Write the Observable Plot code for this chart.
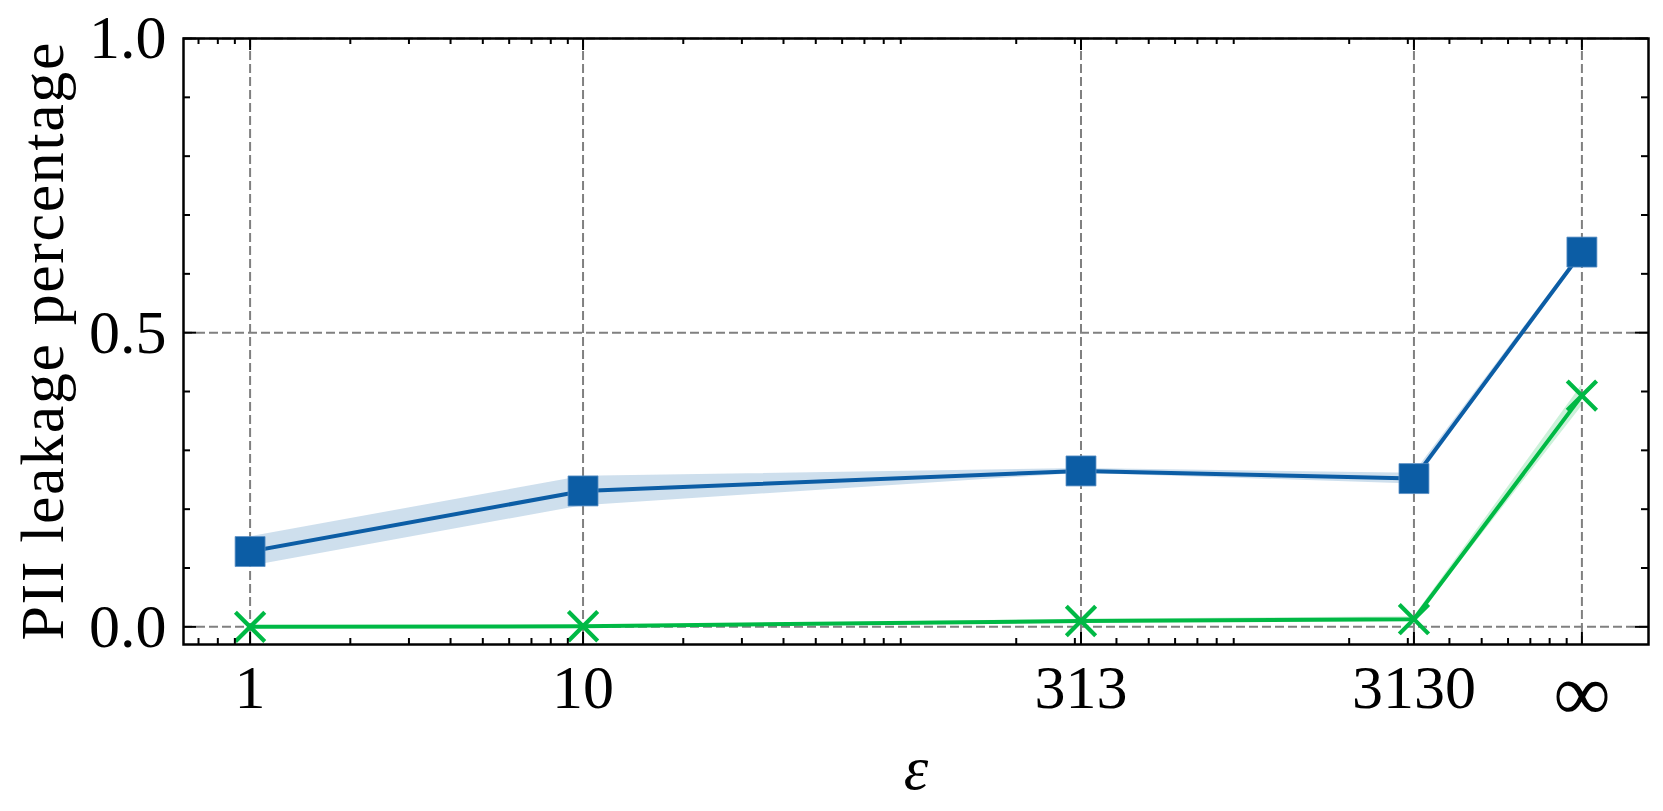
<!DOCTYPE html>
<html><head><meta charset="utf-8">
<script src="https://cdn.jsdelivr.net/npm/d3@7"></script>
<script src="https://cdn.jsdelivr.net/npm/@observablehq/plot@0.6"></script>
<style>html,body{margin:0;padding:0;background:#fff;} svg{display:block}</style>
</head><body><div id="chart"></div>
<script>
// ---- data ----
const epsLabels = ["1", "10", "313", "3130", "\u221E"];
const epsPos = [1, 10, 313, 3130, 10000];          // ∞ drawn at 10^4
const squareMean = [0.128, 0.231, 0.265, 0.252, 0.637];
const squareErr  = [0.025, 0.025, 0.004, 0.009, 0.003];
const crossMean  = [0.000, 0.001, 0.010, 0.013, 0.393];
const crossErr   = [0.000, 0.000, 0.003, 0.004, 0.018];
const yMajor = [0, 0.5, 1.0];
const yMajorLabels = ["0.0", "0.5", "1.0"];
const yMinor = [0.1, 0.2, 0.3, 0.4, 0.6, 0.7, 0.8, 0.9];
const xMinor = [0.7, 0.8, 0.9, 2, 3, 4, 5, 6, 7, 8, 9, 20, 30, 40, 50, 60, 70, 80, 90,
  200, 300, 400, 500, 600, 700, 800, 900, 2000, 3000, 4000, 5000, 6000, 7000, 8000, 9000];
const xTitle = "\u03B5";
const yTitle = "PII leakage percentage";

// ---- layout ----
const W = 1663, H = 811, mL = 183, mR = 15, mT = 38, mB = 167;
const plotH = H - mT - mB, plotW = W - mL - mR;
const blue = "#0C5DA5", green = "#00B945", gridC = "#808080";
const font = "'Liberation Serif', 'Times New Roman', serif";
const FS = 62;

const rows = epsPos.map((x, i) => ({
  x,
  a: squareMean[i], aLo: squareMean[i] - squareErr[i], aHi: squareMean[i] + squareErr[i],
  b: crossMean[i], bLo: crossMean[i] - crossErr[i], bHi: crossMean[i] + crossErr[i]
}));
const tk = {stroke: "black", strokeWidth: 2};

const chart = Plot.plot({
  width: W, height: H, marginLeft: mL, marginRight: mR, marginTop: mT, marginBottom: mB,
  style: {fontFamily: font, background: "white", color: "black"},
  x: {type: "log", domain: [Math.pow(10, -0.2), Math.pow(10, 4.2)], axis: null},
  y: {domain: [-0.03, 1.0], axis: null},
  marks: [
    Plot.ruleX(epsPos, {stroke: gridC, strokeWidth: 2, strokeDasharray: "9,4"}),
    Plot.ruleY(yMajor, {stroke: gridC, strokeWidth: 2, strokeDasharray: "9,4"}),
    Plot.areaY(rows, {x: "x", y1: "aLo", y2: "aHi", fill: blue, fillOpacity: 0.2}),
    Plot.areaY(rows, {x: "x", y1: "bLo", y2: "bHi", fill: green, fillOpacity: 0.2}),
    Plot.line(rows, {x: "x", y: "a", stroke: blue, strokeWidth: 4}),
    Plot.dot(rows, {x: "x", y: "a", symbol: "square", r: 16.9, fill: blue, stroke: "#5a8fc4", strokeWidth: 0.8}),
    Plot.line(rows, {x: "x", y: "b", stroke: green, strokeWidth: 4}),
    Plot.dot(rows, {x: "x", y: "b", symbol: "times", r: 13.4, stroke: green, strokeWidth: 4.2}),
    // inward ticks on all four sides
    Plot.tickX(epsPos, {insetTop: plotH - 12, ...tk}),
    Plot.tickX(epsPos, {insetBottom: plotH - 12, ...tk}),
    Plot.tickX(xMinor, {insetTop: plotH - 6, ...tk}),
    Plot.tickX(xMinor, {insetBottom: plotH - 6, ...tk}),
    Plot.tickY(yMajor, {insetRight: plotW - 13, ...tk}),
    Plot.tickY(yMajor, {insetLeft: plotW - 13, ...tk}),
    Plot.tickY(yMinor, {insetRight: plotW - 7, ...tk}),
    Plot.tickY(yMinor, {insetLeft: plotW - 7, ...tk}),
    Plot.frame({stroke: "black", strokeWidth: 2.5}),
    Plot.axisX(epsPos, {anchor: "bottom", tickSize: 0, tickPadding: 19, fontSize: FS,
      tickFormat: d => epsLabels[epsPos.indexOf(d)], label: null}),
    Plot.axisY(yMajor, {anchor: "left", tickSize: 0, tickPadding: 17, fontSize: FS,
      tickFormat: d => yMajorLabels[yMajor.indexOf(d)], label: null}),
    Plot.text([xTitle], {frameAnchor: "bottom", dy: 125, fontSize: FS, fontStyle: "italic",
      lineAnchor: "middle", text: d => d}),
    Plot.text([yTitle], {frameAnchor: "left", dx: -121, rotate: -90, fontSize: FS,
      lineAnchor: "bottom", textAnchor: "middle", text: d => d})
  ]
});
document.getElementById("chart").appendChild(chart);
// stretch the y title to the reference's length
d3.select(chart).selectAll("text").filter(function() { return this.textContent === yTitle; })
  .attr("textLength", 598).attr("lengthAdjust", "spacing");
// the infinity glyph is wider in the reference
d3.select(chart).selectAll("text").filter(function() { return this.textContent === "\u221E"; })
  .attr("font-size", 80);
</script>
</body></html>
